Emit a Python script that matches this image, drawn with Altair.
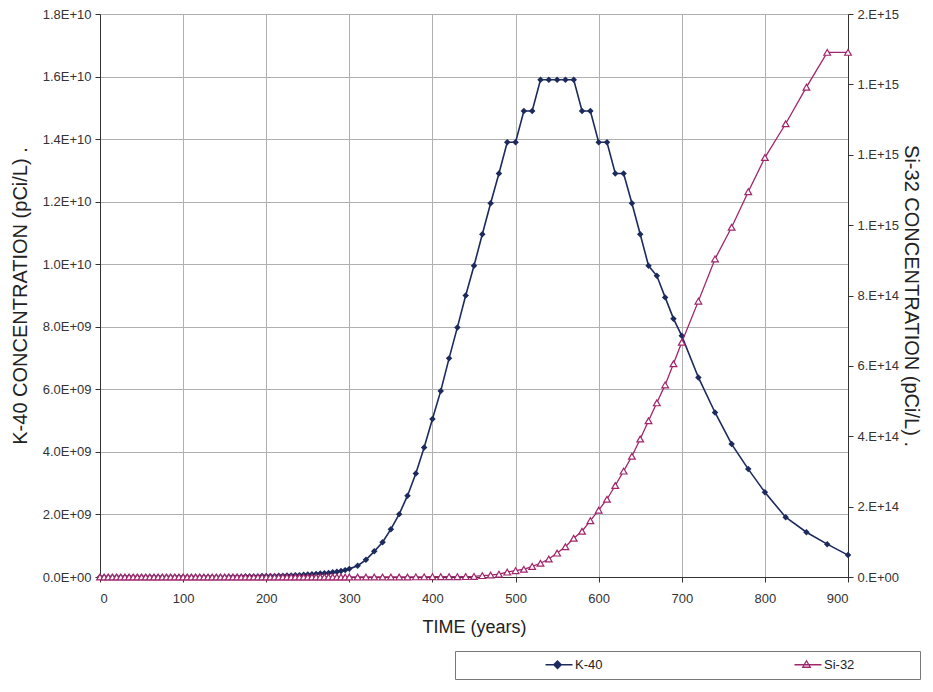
import altair as alt
import pandas as pd

NAVY = "#1c2a5e"
CRIMSON = "#a1256b"
FONT = "Liberation Sans"

# ---- K-40 series (values in units of 1e9 pCi/L) ----
k40_years = [0, 5, 10, 15, 20, 25, 30, 35, 40, 45, 50, 55, 60, 65, 70, 75, 80, 85, 90, 95,
             100, 105, 110, 115, 120, 125, 130, 135, 140, 145, 150, 155, 160, 165, 170, 175,
             180, 185, 190, 195, 200, 205, 210, 215, 220, 225, 230, 235, 240, 245, 250, 255,
             260, 265, 270, 275, 280, 285, 290, 295,
             300, 310, 320, 330, 340, 350, 360, 370, 380, 390, 400, 410, 420, 430, 440, 450,
             460, 470, 480, 490, 500, 510, 520, 530, 540, 550, 560, 570, 580, 590, 600, 610,
             620, 630, 640, 650, 660, 670, 680, 690, 700, 720, 740, 760, 780, 800, 825, 850,
             875, 900]
k40_e9 = [0.0, 0.0, 0.0, 0.0, 0.0, 0.0, 0.0, 0.0, 0.0, 0.0, 0.0, 0.0, 0.0, 0.0, 0.0, 0.0,
          0.0, 0.0, 0.0, 0.0, 0.0, 0.0, 0.0, 0.0, 0.0, 0.0, 0.0, 0.0, 0.0, 0.0, 0.0,
          0.01, 0.01, 0.01, 0.01, 0.02, 0.02, 0.02, 0.02, 0.03, 0.03,
          0.03, 0.03, 0.04, 0.04, 0.05, 0.05, 0.06, 0.06, 0.07, 0.08,
          0.09, 0.10, 0.11, 0.12, 0.13, 0.15, 0.17, 0.19, 0.22,
          0.26, 0.36, 0.55, 0.82, 1.11, 1.53, 2.01, 2.60, 3.31, 4.14, 5.05, 5.95, 6.99, 7.98,
          9.00, 9.95, 10.96, 11.95, 12.90, 13.90, 13.90, 14.90, 14.90, 15.90, 15.90, 15.90,
          15.90, 15.90, 14.90, 14.90, 13.90, 13.90, 12.90, 12.90, 11.95, 10.96, 9.95, 9.63,
          8.94, 8.26, 7.71, 6.38, 5.26, 4.25, 3.45, 2.71, 1.91, 1.43, 1.05, 0.70]

# ---- Si-32 series (values in units of 1e14 pCi/L) ----
si32_years = [0, 5, 10, 15, 20, 25, 30, 35, 40, 45, 50, 55, 60, 65, 70, 75, 80, 85, 90, 95,
              100, 105, 110, 115, 120, 125, 130, 135, 140, 145, 150, 155, 160, 165, 170, 175,
              180, 185, 190, 195, 200, 205, 210, 215, 220, 225, 230, 235, 240, 245, 250, 255,
              260, 265, 270, 275, 280, 285, 290, 295,
              300, 310, 320, 330, 340, 350, 360, 370, 380, 390, 400, 410, 420, 430, 440, 450,
              460, 470, 480, 490, 500, 510, 520, 530, 540, 550, 560, 570, 580, 590, 600, 610,
              620, 630, 640, 650, 660, 670, 680, 690, 700, 720, 740, 760, 780, 800, 825, 850,
              875, 900]
si32_e14 = [0.0] * 60 + [
    0.0, 0.0, 0.0, 0.0, 0.0, 0.0, 0.0, 0.0, 0.004, 0.004, 0.008, 0.008, 0.008, 0.008, 0.012,
    0.016, 0.04, 0.056, 0.08, 0.14, 0.18, 0.22, 0.30, 0.39, 0.51, 0.68, 0.86, 1.10, 1.30,
    1.60, 1.90, 2.21, 2.60, 3.01, 3.43, 3.92, 4.44, 4.95, 5.46, 6.06, 6.67, 7.84, 9.04, 9.94,
    10.95, 11.92, 12.88, 13.92, 14.91, 14.91]

x_ticks = [0, 100, 200, 300, 400, 500, 600, 700, 800, 900]
left_ticks = [0, 2e9, 4e9, 6e9, 8e9, 1e10, 1.2e10, 1.4e10, 1.6e10, 1.8e10]
right_ticks = [0, 2e14, 4e14, 6e14, 8e14, 1e15, 1.2e15, 1.4e15, 1.6e15]
series_names = ["K-40", "Si-32"]

dfk = pd.DataFrame({"year": k40_years, "value": [v * 1e9 for v in k40_e9], "series": "K-40"})
dfs = pd.DataFrame({"year": si32_years, "value": [v * 1e14 for v in si32_e14], "series": "Si-32"})
dfleg = pd.DataFrame({"series": series_names})

x_enc = alt.X("year:Q", scale=alt.Scale(domain=[0, 900], nice=False, zero=False),
              axis=alt.Axis(values=x_ticks, title="TIME (years)", grid=True, format="d",
                            labelPadding=10, titlePadding=13, titleFontSize=18))

# legend symbols: short line with the series marker in its middle
# (the trailing move-to in the Si-32 path widens the legend frame to the right)
k_path = "M15.4,0H20.8M17.8,-0.76L18.56,0L17.8,0.76L17.04,0Z"
s_path = "M15.4,0H20.8M17.8,-0.8L18.55,0.5L17.05,0.5ZM38.5,0"

legend = alt.Legend(
    title=None, orient="none", legendX=355, legendY=637, direction="horizontal",
    columns=2, columnPadding=108, padding=7, labelOffset=100, symbolSize=100,
    symbolStrokeWidth=1.3, symbolOpacity=1,
    strokeColor="#777777", fillColor="white", labelFontSize=13, labelColor="#222",
    labelFont=FONT,
)

left_label = ("replace(format(datum.value, '.1e'), 'e+', "
              "toNumber(split(format(datum.value, '.1e'), 'e+')[1]) < 10 ? 'E+0' : 'E+')")
right_label = ("replace(format(datum.value, '.0e'), 'e+', "
               "toNumber(split(format(datum.value, '.0e'), 'e+')[1]) < 10 ? '.E+0' : '.E+')")

yk = alt.Y("value:Q", scale=alt.Scale(domain=[0, 1.8e10], nice=False),
           axis=alt.Axis(values=left_ticks, labelExpr=left_label, grid=True, orient="left",
                         title="K-40 CONCENTRATION (pCi/L) .", titlePadding=12,
                         labelPadding=4))
ys = alt.Y("value:Q", scale=alt.Scale(domain=[0, 1.6e15], nice=False),
           axis=alt.Axis(values=right_ticks, labelExpr=right_label, grid=False, orient="right",
                         title="Si-32 CONCENTRATION (pCi/L) .", titlePadding=2,
                         labelPadding=4))

k_line = alt.Chart(dfk).mark_line(strokeWidth=1.6, color=NAVY).encode(x=x_enc, y=yk)
k_pts = alt.Chart(dfk).mark_point(shape="diamond", filled=True, size=42, color=NAVY,
                                  opacity=1).encode(x=x_enc, y=yk)
s_line = alt.Chart(dfs).mark_line(strokeWidth=1.3, color=CRIMSON).encode(x=x_enc, y=ys)
s_pts = alt.Chart(dfs).mark_point(shape="triangle-up", filled=True, fill="white",
                                  stroke=CRIMSON, strokeWidth=1.2, size=45,
                                  opacity=1).encode(x=x_enc, y=ys)

# legend-only layer (its data is filtered out, so it draws no marks)
leg_layer = alt.Chart(dfleg).transform_filter("false").mark_point(opacity=1).encode(
    shape=alt.Shape("series:N", scale=alt.Scale(domain=series_names, range=[k_path, s_path]),
                    legend=legend),
    fill=alt.Fill("series:N", scale=alt.Scale(domain=series_names, range=[NAVY, "white"]),
                  legend=legend),
    stroke=alt.Stroke("series:N", scale=alt.Scale(domain=series_names, range=[NAVY, CRIMSON]),
                      legend=legend),
)

chart = alt.layer(alt.layer(k_line, k_pts), alt.layer(s_line, s_pts), leg_layer).resolve_scale(
    y="independent"
).properties(
    width=748, height=563,
    padding={"left": 2, "top": 0, "right": 2, "bottom": 0},
    background="white",
).configure_view(stroke=None).configure_axis(
    labelFont=FONT, titleFont=FONT, labelFontSize=13, titleFontSize=20,
    labelColor="#333333", titleColor="#222222", titleFontWeight="normal",
    domainColor="#333333", tickColor="#333333", tickSize=5,
    gridColor="#b0b0b0", gridWidth=1,
)

chart.save("out.html", embed_options={"renderer": "svg", "actions": False})
